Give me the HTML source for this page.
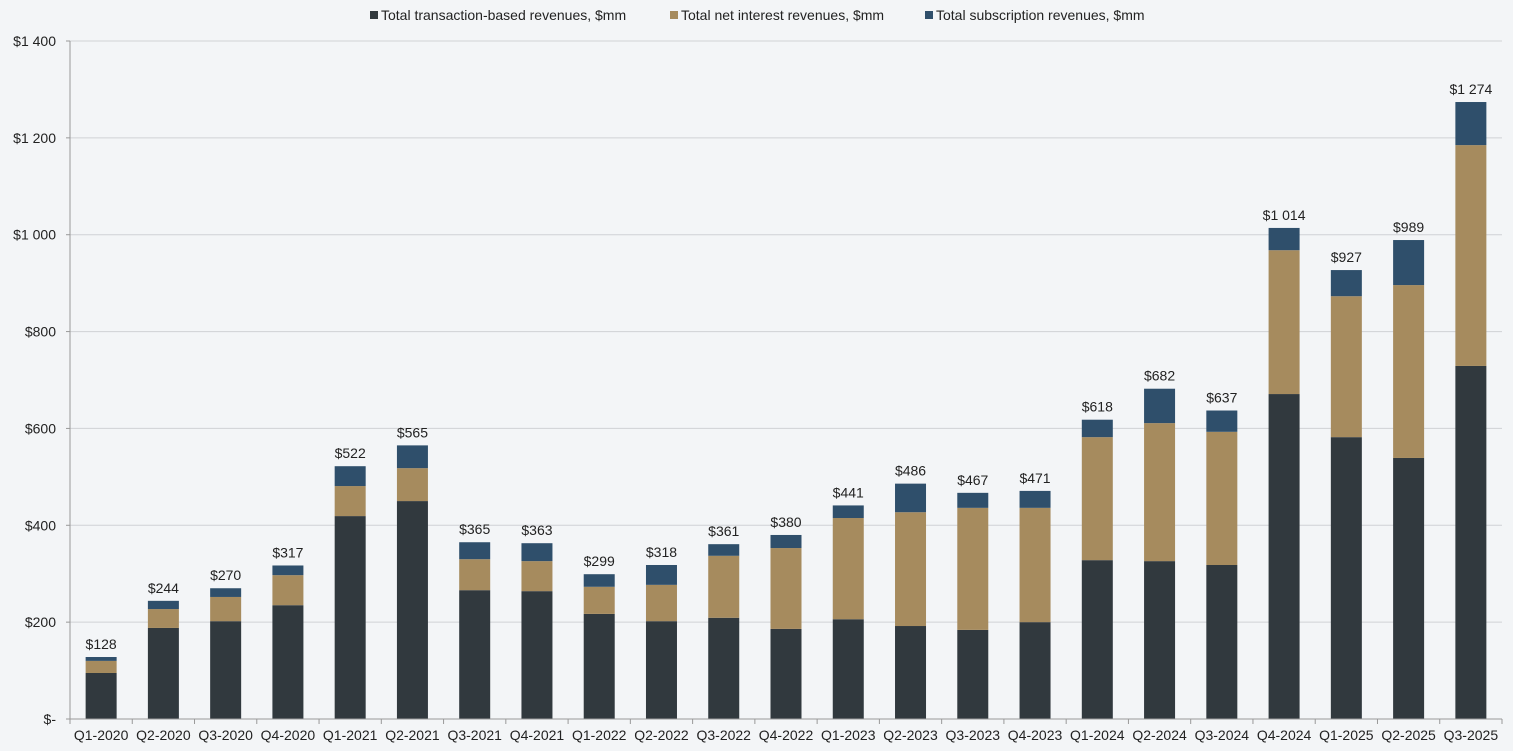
<!DOCTYPE html>
<html><head><meta charset="utf-8"><style>
body{margin:0;background:#f3f5f7;font-family:"Liberation Sans",sans-serif;}
svg{display:block}
</style></head><body>
<svg id="chart" width="1513" height="751">
<g id="legend" font-size="14" fill="#222">
 <g><rect x="370" y="11" width="8" height="8" fill="#31393e"/><text x="381" y="20">Total transaction-based revenues, $mm</text></g>
 <g><rect x="670" y="11" width="8" height="8" fill="#a68b5e"/><text x="681" y="20">Total net interest revenues, $mm</text></g>
 <g><rect x="925" y="11" width="8" height="8" fill="#2f4f6b"/><text x="936" y="20">Total subscription revenues, $mm</text></g>
</g>
<g id="grid"></g><g id="bars"></g><g id="axes"></g>
</svg>
<script>
const categories=["Q1-2020","Q2-2020","Q3-2020","Q4-2020","Q1-2021","Q2-2021","Q3-2021","Q4-2021","Q1-2022","Q2-2022","Q3-2022","Q4-2022","Q1-2023","Q2-2023","Q3-2023","Q4-2023","Q1-2024","Q2-2024","Q3-2024","Q4-2024","Q1-2025","Q2-2025","Q3-2025"];
const transaction=[95,188,202,235,419,450,266,264,217,202,209,186,206,192,184,200,328,326,318,671,582,539,729];
const netInterest=[25,39,50,62,62,68,64,62,56,75,128,167,209,235,252,236,254,285,275,297,291,357,456];
const subscription=[8,17,18,20,41,47,35,37,26,41,24,27,26,59,31,35,36,71,44,46,54,93,89];
const totals=[128,244,270,317,522,565,365,363,299,318,361,380,441,486,467,471,618,682,637,1014,927,989,1274];
const yTicks=[0,200,400,600,800,1000,1200,1400];
const yTickLabels=["$-","$200","$400","$600","$800","$1 000","$1 200","$1 400"];
const NS="http://www.w3.org/2000/svg";
const L=70,R=1502,T=41,B=719,YMAX=1400;
const step=(R-L)/categories.length,bw=31;
const y=v=>B-v/YMAX*(B-T);
const xc=i=>L+step*(i+0.5);
function mk(tag,attrs,parent){const e=document.createElementNS(NS,tag);for(const k in attrs)e.setAttribute(k,attrs[k]);parent.appendChild(e);return e;}
const grid=document.getElementById('grid'),bars=document.getElementById('bars'),axes=document.getElementById('axes');
yTicks.forEach((t,i)=>{
 if(t>0){const g=mk('line',{x1:L,x2:R,y1:y(t),y2:y(t),stroke:'#d0d2d5','stroke-width':1},grid);
 
 }
 const tk=mk('line',{x1:L-4,x2:L,y1:y(t),y2:y(t),stroke:'#999'},axes);
 
 
 const lb=mk('text',{x:L-14,y:y(t)+5,'text-anchor':'end','font-size':14,fill:'#222'},axes);
 lb.textContent=yTickLabels[i];
 
 
});
const series=[[transaction,'#31393e','transaction'],[netInterest,'#a68b5e','net-interest'],[subscription,'#2f4f6b','subscription']];
categories.forEach((c,i)=>{
 let base=0;
 series.forEach(([arr,col,nm])=>{
  const v=arr[i];
  const r=mk('rect',{x:xc(i)-bw/2,y:y(base+v),width:bw,height:y(base)-y(base+v),fill:col},bars);
  
  
  base+=v;
 });
 const tl=mk('text',{x:xc(i),y:y(base)-8,'text-anchor':'middle','font-size':14,fill:'#222'},bars);
 tl.textContent='$'+String(totals[i]).replace(/\B(?=(\d{3})+(?!\d))/g,' ');
 
 
 const xl=mk('text',{x:xc(i),y:740,'text-anchor':'middle','font-size':14,fill:'#222'},axes);
 xl.textContent=c;
 
 
});
for(let i=0;i<=categories.length;i++){
 const t=mk('line',{x1:L+step*i,x2:L+step*i,y1:B,y2:B+5,stroke:'#999'},axes);
 
 
}
const ya=mk('line',{x1:L,x2:L,y1:T,y2:B,stroke:'#999'},axes);


const xa=mk('line',{x1:L,x2:R,y1:B,y2:B,stroke:'#999'},axes);


</script>
</body></html>
